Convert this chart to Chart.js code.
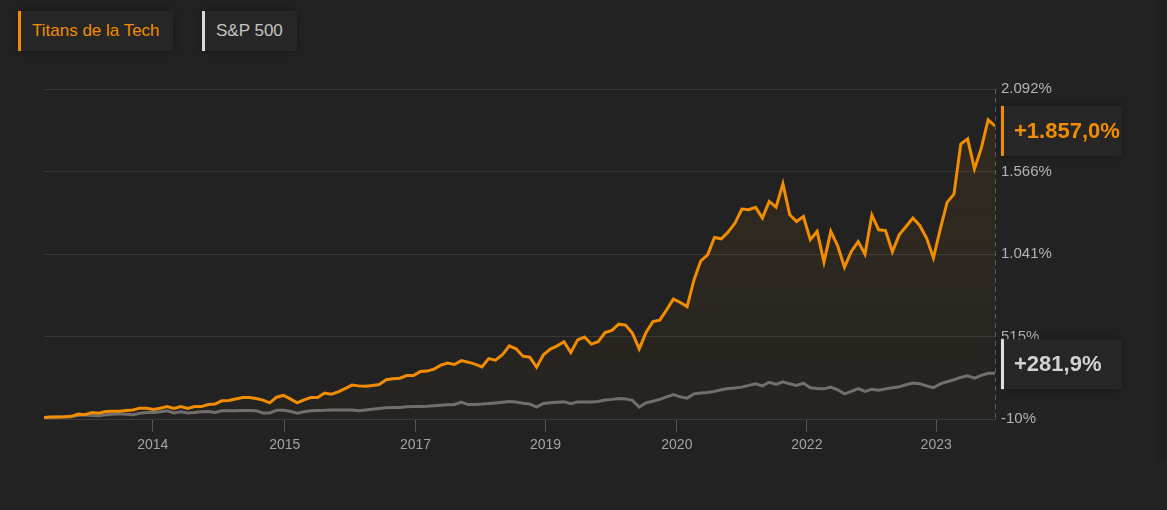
<!DOCTYPE html>
<html>
<head>
    <meta charset="utf-8">
    <title>Titans de la Tech vs S&amp;P 500</title>
    <style>
        html, body { margin: 0; padding: 0; }
        body {
            width: 1167px; height: 510px; overflow: hidden;
            background: #222222;
            font-family: "Liberation Sans", Arial, sans-serif;
            position: relative;
        }
        .legend-item {
            position: absolute; top: 11px; height: 40px;
            box-sizing: border-box;
            background: #262626;
            box-shadow: 0 0 8px rgba(0,0,0,0.35);
            font-size: 17px; line-height: 40px;
            padding-left: 11px;
        }
        #leg1 { left: 18px; width: 155px; border-left: 3px solid #f28c00; color: #f28c00; }
        #leg2 { left: 202px; width: 95px; border-left: 3px solid #d9d9d9; color: #c4c4c4; }
        #side {
            position: absolute; left: 1155px; top: 0; width: 12px; height: 462px;
            background: rgba(0,0,0,0.07);
            border-bottom-left-radius: 8px;
        }
        #chart-container {
            position: absolute; left: 0; top: 0;
            width: 1167px; height: 470px;
        }
    </style>
</head>
<body>

    <div id="side"></div>
    <div class="legend-item" id="leg1">Titans de la Tech</div>
    <div class="legend-item" id="leg2">S&amp;P 500</div>

    <div id="chart-container">
        <canvas id="myChart"></canvas>
    </div>

    <script src="https://cdn.jsdelivr.net/npm/chart.js"></script>
    <script>
        // rendement cumulé en %, un point toutes les 4 semaines
        const titans = [
            0, 2, 3, 4, 7, 21, 17, 31, 27, 38, 39, 40, 44, 48,
            59, 59, 50, 59, 69, 57, 69, 57, 69, 69,
            82, 85, 106, 108, 117, 127, 127, 120, 110, 93,
            129, 140, 118, 93, 112, 127, 127, 155, 148, 163,
            184, 206, 201, 199, 203, 210, 240, 246, 250, 267,
            267, 292, 295, 308, 333, 346, 337, 362, 352, 340,
            322, 375, 365, 399, 456, 437, 390, 384, 320, 399,
            435, 456, 482, 413, 494, 512, 467, 482, 541, 554,
            594, 588, 537, 437, 541, 611, 620, 685, 754, 732,
            706, 876, 998, 1036, 1146, 1138, 1181, 1238, 1327, 1323,
            1338, 1270, 1376, 1340, 1488, 1291, 1248, 1280, 1132, 1185,
            990, 1185, 1094, 957, 1057, 1120, 1040, 1290, 1195, 1190,
            1055, 1163, 1216, 1270, 1223, 1143, 1017, 1200, 1370, 1422,
            1741, 1774, 1583, 1715, 1896, 1857.0
        ];
        const sp500 = [
            0, 1, 2, 3, 4, 13, 17, 13, 10, 17, 20, 23, 20, 17,
            26, 31, 32, 36, 42, 29, 36, 29, 32, 36,
            38, 31, 42, 42, 43, 44, 44, 42, 29, 29,
            45, 45, 39, 27, 36, 42, 44, 45, 47, 48,
            48, 48, 42, 47, 52, 57, 61, 63, 64, 68,
            69, 69, 71, 74, 77, 80, 83, 97, 82, 83,
            85, 88, 92, 96, 101, 98, 90, 85, 66, 89,
            93, 96, 99, 87, 99, 99, 99, 101, 111, 115,
            120, 118, 109, 66, 93, 103, 115, 131, 146, 131,
            123, 150, 155, 159, 166, 176, 184, 187, 193, 204,
            214, 201, 224, 211, 227, 214, 204, 218, 189, 184,
            182, 193, 176, 150, 166, 184, 166, 179, 173, 182,
            189, 195, 208, 219, 214, 201, 189, 214, 227, 240,
            255, 265, 250, 268, 281, 281.9
        ];
        const xTickPos = [15.9, 35.2, 54.3, 73.3, 92.5, 111.5, 130.4];
        const xTickLabels = ['2014', '2015', '2017', '2019', '2020', '2022', '2023'];
        const yTicks = [-10, 515, 1041, 1566, 2092];

        const ORANGE = '#f28c00';
        const GREY = '#6e6e6e';

        // 1857 -> "1.857", 1857.04 -> "1.857,0"
        function fmtNum(v, dec) {
            const parts = Math.abs(v).toFixed(dec).split('.');
            const ent = parts[0].replace(/\B(?=(\d{3})+(?!\d))/g, '.');
            return (v < 0 ? '-' : '') + ent + (dec ? ',' + parts[1] : '');
        }

        // ligne pointillée au bord droit + cartouches de la dernière valeur
        const endBadges = {
            id: 'endBadges',
            beforeDatasetsDraw(chart) {
                const { ctx, chartArea: a } = chart;
                ctx.save();
                ctx.strokeStyle = '#5c5c5c';
                ctx.lineWidth = 1;
                ctx.setLineDash([5, 4]);
                ctx.beginPath();
                ctx.moveTo(a.right + 0.5, a.top);
                ctx.lineTo(a.right + 0.5, a.bottom);
                ctx.stroke();
                ctx.restore();
            },
            afterDraw(chart) {
                const { ctx, scales: { y } } = chart;
                const shift = [5, -9];
                const barCol = [ORANGE, '#dedede'];
                const txtCol = [ORANGE, '#d2d2d2'];
                chart.data.datasets.forEach((ds, k) => {
                    const v = ds.data[ds.data.length - 1];
                    const cy = y.getPixelForValue(v) + shift[k];
                    const x0 = 1000, w = 122, h = 50;
                    ctx.save();
                    ctx.shadowColor = 'rgba(0,0,0,0.35)';
                    ctx.shadowBlur = 8;
                    ctx.fillStyle = '#262626';
                    ctx.fillRect(x0, cy - h / 2, w, h);
                    ctx.shadowBlur = 0;
                    ctx.fillStyle = barCol[k];
                    ctx.fillRect(x0 + 1, cy - h / 2, 3, h);
                    ctx.fillStyle = txtCol[k];
                    ctx.font = 'bold 22px "Liberation Sans", Arial, sans-serif';
                    ctx.textBaseline = 'middle';
                    ctx.textAlign = 'left';
                    ctx.fillText('+' + fmtNum(v, 1) + '%', x0 + 14, cy + 1);
                    ctx.restore();
                });
            }
        };

        const labels = titans.map((_, i) => i);
        const ctx = document.getElementById('myChart').getContext('2d');
        Chart.defaults.font.family = '"Liberation Sans", Arial, sans-serif';

        const myChart = new Chart(ctx, {
            type: 'line',
            data: {
                labels: labels,
                datasets: [
                    {
                        label: 'Titans de la Tech',
                        data: titans,
                        borderColor: ORANGE,
                        borderWidth: 3,
                        pointRadius: 0,
                        tension: 0,
                        fill: 'start',
                        backgroundColor: (c) => {
                            const area = c.chart.chartArea;
                            if (!area) return 'rgba(242,140,0,0.05)';
                            const g = c.chart.ctx.createLinearGradient(0, area.top, 0, area.bottom);
                            g.addColorStop(0, 'rgba(242,140,0,0.09)');
                            g.addColorStop(1, 'rgba(242,140,0,0.015)');
                            return g;
                        }
                    },
                    {
                        label: 'S&P 500',
                        data: sp500,
                        borderColor: GREY,
                        borderWidth: 3,
                        pointRadius: 0,
                        tension: 0,
                        fill: false
                    }
                ]
            },
            options: {
                responsive: true,
                maintainAspectRatio: false,
                animation: false,
                layout: { padding: { left: 44, top: 89, right: 0, bottom: 0 } },
                plugins: {
                    legend: { display: false },
                    tooltip: { enabled: false }
                },
                scales: {
                    x: {
                        type: 'linear',
                        min: 0,
                        max: titans.length - 1,
                        afterBuildTicks: (a) => { a.ticks = xTickPos.map(v => ({ value: v })); },
                        afterFit: (s) => { s.height = 51; },
                        ticks: {
                            callback: (v, i) => xTickLabels[i],
                            color: '#a3a3a3',
                            font: { size: 14 },
                            padding: 5,
                            maxRotation: 0,
                            autoSkip: false
                        },
                        grid: { drawOnChartArea: false, drawTicks: true, tickLength: 13, color: '#555555' },
                        border: { display: true, color: '#3c3c3c' }
                    },
                    y: {
                        position: 'right',
                        min: yTicks[0],
                        max: yTicks[yTicks.length - 1],
                        afterBuildTicks: (a) => { a.ticks = yTicks.map(v => ({ value: v })); },
                        afterFit: (s) => { s.width = 172; },
                        ticks: {
                            callback: (v) => fmtNum(v, 0) + '%',
                            color: '#b3b3b3',
                            font: { size: 15 },
                            padding: 6
                        },
                        grid: { color: '#393939', drawTicks: false },
                        border: { display: false }
                    }
                }
            },
            plugins: [endBadges]
        });
    </script>

</body>
</html>
